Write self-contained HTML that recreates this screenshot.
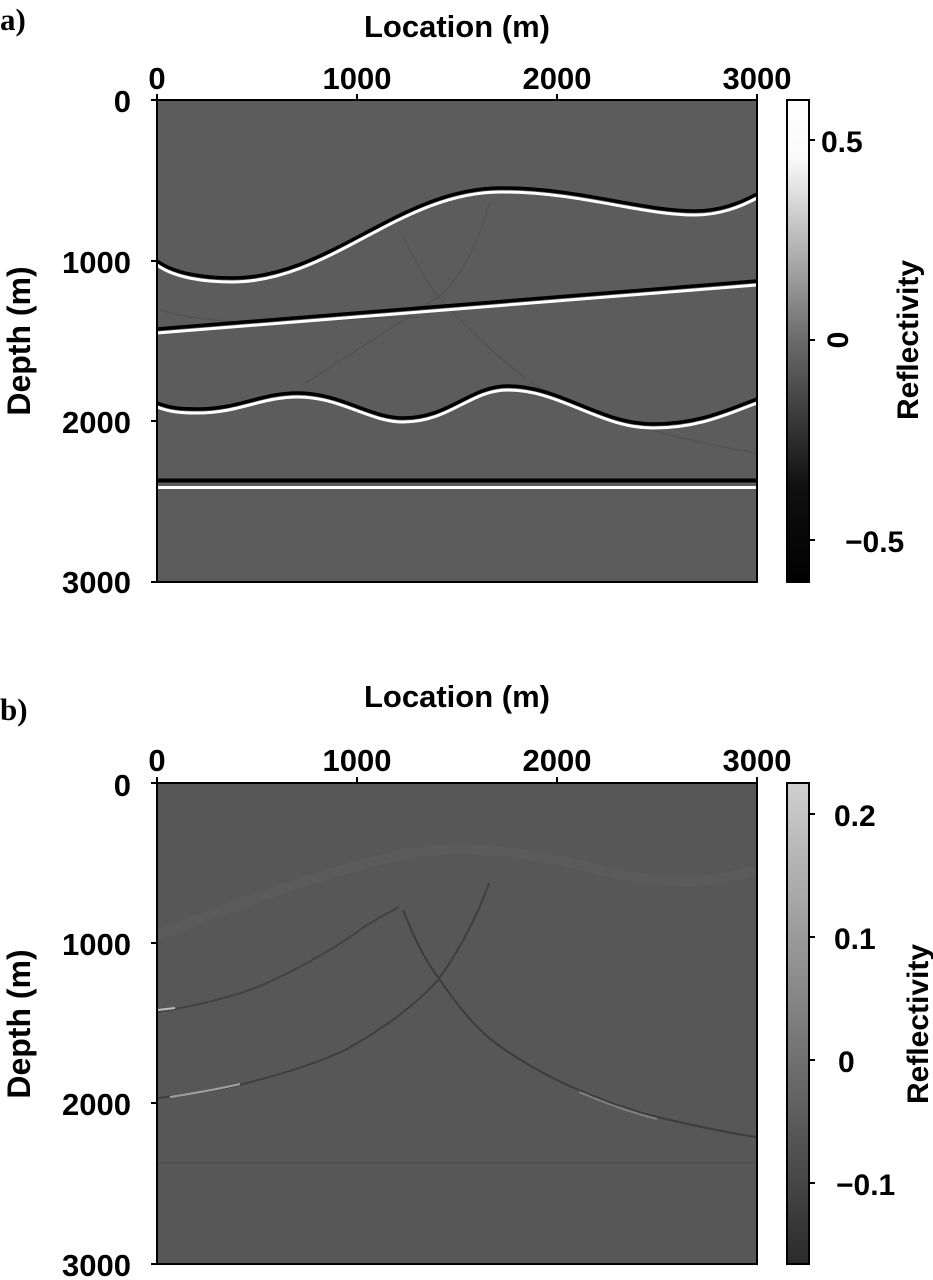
<!DOCTYPE html>
<html><head><meta charset="utf-8"><style>
html,body{margin:0;padding:0;background:#fff;}
svg{display:block}
text{font-family:"Liberation Sans",sans-serif;font-weight:bold;fill:#000}
</style></head><body>
<svg width="933" height="1280" viewBox="0 0 933 1280" xmlns="http://www.w3.org/2000/svg">
<defs>
<linearGradient id="cba" x1="0" y1="0" x2="0" y2="1"><stop offset="0" stop-color="#fff"/><stop offset="0.12" stop-color="#fafafa"/><stop offset="0.5" stop-color="#6a6a6a"/><stop offset="0.8" stop-color="#101010"/><stop offset="1" stop-color="#000"/></linearGradient>
<linearGradient id="cbb" x1="0" y1="0" x2="0" y2="1"><stop offset="0" stop-color="#cfcfcf"/><stop offset="1" stop-color="#2a2a2a"/></linearGradient>
<clipPath id="ca"><rect x="157" y="100" width="600" height="482"/></clipPath>
<clipPath id="cb"><rect x="157" y="783" width="600" height="481"/></clipPath>
</defs>

<!-- Panel a -->
<text x="0" y="30" style="font-family:'Liberation Serif',serif;font-size:31px">a)</text>
<text x="457" y="37" text-anchor="middle" font-size="31">Location (m)</text>
<g font-size="31" text-anchor="middle">
<text x="157" y="89">0</text><text x="357" y="89">1000</text><text x="557" y="89">2000</text><text x="757" y="89">3000</text>
</g>
<g font-size="31" text-anchor="end">
<text x="131" y="112">0</text><text x="131" y="273">1000</text><text x="131" y="433">2000</text><text x="131" y="593">3000</text>
</g>
<text transform="translate(30,341) rotate(-90)" text-anchor="middle" font-size="32">Depth (m)</text>

<rect x="157" y="100" width="600" height="482" fill="#5c5c5c"/>
<g clip-path="url(#ca)" fill="none" stroke-linecap="butt">
  <g stroke="#525252" stroke-width="1.2">
    <path d="M160,310 C230,330 300,320 419,317"/>
    <path d="M306,383 C340,360 390,330 438,297 C460,280 480,240 489,203"/>
    <path d="M403,237 C415,260 425,280 438,297 C470,330 500,360 532,383 C600,420 680,440 756,453"/>
  </g>
  <path d="M157,265 C175,278 205,282 232,282 C330,282 400,192 501,192 C580,192 640,215 695,215 C720,215 740,207 757,198" stroke="#000" stroke-width="3.5" transform="translate(0,-4)"/>
  <path d="M157,265 C175,278 205,282 232,282 C330,282 400,192 501,192 C580,192 640,215 695,215 C720,215 740,207 757,198" stroke="#fff" stroke-width="3"/>
  <path d="M157,329 L757,281" stroke="#000" stroke-width="3.5"/>
  <path d="M157,333 L757,285" stroke="#fff" stroke-width="3"/>
  <path d="M157,407 C170,412 180,413 197,413 C240,413 260,397 298,397 C340,397 370,422 403,422 C450,422 470,390 508,390 C560,390 600,428 653,428 C700,428 730,413 757,403" stroke="#000" stroke-width="3.5" transform="translate(0,-4)"/>
  <path d="M157,407 C170,412 180,413 197,413 C240,413 260,397 298,397 C340,397 370,422 403,422 C450,422 470,390 508,390 C560,390 600,428 653,428 C700,428 730,413 757,403" stroke="#fff" stroke-width="3"/>
  <path d="M157,480.5 L757,480.5" stroke="#000" stroke-width="4"/>
  <path d="M157,487.5 L757,487.5" stroke="#fff" stroke-width="3"/>
</g>
<rect x="157" y="100" width="600" height="482" fill="none" stroke="#000" stroke-width="2"/>
<g stroke="#000" stroke-width="2">
<path d="M157,100v-6M357,100v-6M557,100v-6M757,100v-6M157,100h-6M157,261h-6M157,421h-6M157,582h-6"/>
</g>
<rect x="787" y="100" width="22" height="482" fill="url(#cba)" stroke="#000" stroke-width="2"/>
<path d="M809,140h6M809,340h6M809,540h6" stroke="#000" stroke-width="2"/>
<g font-size="30">
<text x="821" y="152">0.5</text><text x="845" y="552">−0.5</text>
<text transform="translate(848,340) rotate(-90)" text-anchor="middle">0</text>
</g>
<text transform="translate(918,340) rotate(-90)" text-anchor="middle" font-size="30">Reflectivity</text>

<!-- Panel b -->
<text x="0" y="720" style="font-family:'Liberation Serif',serif;font-size:31px">b)</text>
<text x="457" y="707" text-anchor="middle" font-size="31">Location (m)</text>
<g font-size="31" text-anchor="middle">
<text x="157" y="771">0</text><text x="357" y="771">1000</text><text x="557" y="771">2000</text><text x="757" y="771">3000</text>
</g>
<g font-size="31" text-anchor="end">
<text x="131" y="796">0</text><text x="131" y="955">1000</text><text x="131" y="1115">2000</text><text x="131" y="1276">3000</text>
</g>
<text transform="translate(30,1024) rotate(-90)" text-anchor="middle" font-size="32">Depth (m)</text>

<rect x="157" y="783" width="600" height="481" fill="#575757"/>
<g clip-path="url(#cb)" fill="none">
  <path d="M157,935 C250,900 300,880 380,860 C450,840 520,850 600,870 C680,890 720,880 757,870" stroke="#5b5b5b" stroke-width="10"/>
  <path d="M157,1163 L757,1163" stroke="#505050" stroke-width="2"/>
  <path d="M158,1012 C200,1005 240,995 267,983 C310,963 340,945 364,927 C380,917 390,912 399,907" stroke="#424242" stroke-width="2"/>
  <path d="M158,1098 C190,1094 220,1090 247,1083 C290,1072 320,1062 345,1050 C390,1025 420,1000 438,980 C460,950 480,910 489,883" stroke="#3f3f3f" stroke-width="2"/>
  <path d="M403,910 C415,940 425,960 438,977 C460,1010 480,1033 501,1047 C530,1067 555,1080 579,1090 C610,1103 630,1110 657,1117 C700,1127 730,1133 756,1137" stroke="#3d3d3d" stroke-width="2"/>
  <path d="M158,1010 L175,1008" stroke="#bdbdbd" stroke-width="2"/>
  <path d="M170,1097 C195,1093 215,1090 240,1084" stroke="#a0a0a0" stroke-width="2"/>
  <path d="M579,1092 C610,1105 630,1112 657,1119" stroke="#808080" stroke-width="2"/>
</g>
<rect x="157" y="783" width="600" height="481" fill="none" stroke="#000" stroke-width="2"/>
<g stroke="#000" stroke-width="2">
<path d="M157,783v-6M357,783v-6M557,783v-6M757,783v-6M157,783h-6M157,943h-6M157,1103h-6M157,1264h-6"/>
</g>
<rect x="787" y="783" width="22" height="481" fill="url(#cbb)" stroke="#000" stroke-width="2"/>
<path d="M809,814h6M809,937h6M809,1060h6M809,1183h6" stroke="#000" stroke-width="2"/>
<g font-size="30">
<text x="834" y="826">0.2</text><text x="834" y="949">0.1</text><text x="838" y="1072">0</text><text x="836" y="1195">−0.1</text>
</g>
<text transform="translate(928,1024) rotate(-90)" text-anchor="middle" font-size="30">Reflectivity</text>
</svg>
</body></html>
